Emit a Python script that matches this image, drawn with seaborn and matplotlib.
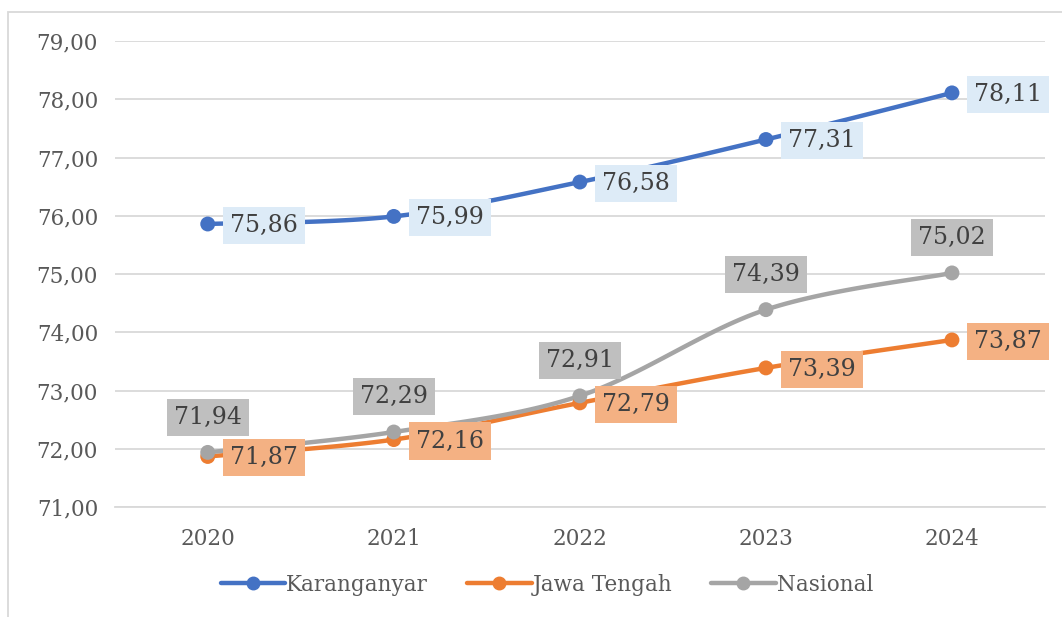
import numpy as np
import pandas as pd
import matplotlib
matplotlib.use("Agg")
import matplotlib.pyplot as plt
import seaborn as sns
from matplotlib.patches import Rectangle

# data...
years = ["2020", "2021", "2022", "2023", "2024"]
karanganyar = [75.86, 75.99, 76.58, 77.31, 78.11]
jawa_tengah = [71.87, 72.16, 72.79, 73.39, 73.87]
nasional = [71.94, 72.29, 72.91, 74.39, 75.02]

series_names = ["Karanganyar", "Jawa Tengah", "Nasional"]
colors = {"Karanganyar": "#4472C4", "Jawa Tengah": "#ED7D31", "Nasional": "#A5A5A5"}
box_colors = {"Karanganyar": "#DDEBF7", "Jawa Tengah": "#F4B183", "Nasional": "#BFBFBF"}

df = pd.DataFrame({"Tahun": years * 3,
                   "Nilai": karanganyar + jawa_tengah + nasional,
                   "Wilayah": [n for n in series_names for _ in years]})
df["x"] = df.groupby("Wilayah").cumcount()

sns.set_style("white")
plt.rcParams["font.family"] = ["DejaVu Serif"]


def smooth(xs, ys, n=30):
    # catmull-rom style smoothing like excel's smoothed line
    xs = np.asarray(xs, float)
    ys = np.asarray(ys, float)
    px = np.concatenate([[xs[0]], xs, [xs[-1]]])
    py = np.concatenate([[ys[0]], ys, [ys[-1]]])
    outx, outy = [], []
    for i in range(1, len(px) - 2):
        p0, p1, p2, p3 = (np.array([px[j], py[j]]) for j in range(i - 1, i + 3))
        c1 = p1 + (p2 - p0) / 6
        c2 = p2 - (p3 - p1) / 6
        t = np.linspace(0, 1, n)[:, None]
        b = (1 - t) ** 3 * p1 + 3 * (1 - t) ** 2 * t * c1 + 3 * (1 - t) * t ** 2 * c2 + t ** 3 * p2
        outx.extend(b[:, 0])
        outy.extend(b[:, 1])
    return outx, outy


fig = plt.figure(figsize=(10.62, 6.17), dpi=100)
ax = fig.add_axes([0.108, 0.178, 0.876, 0.7555])

for name in series_names:
    sub = df[df["Wilayah"] == name]
    sx, sy = smooth(sub["x"], sub["Nilai"])
    ax.plot(sx, sy, color=colors[name], lw=3.2, solid_capstyle="round", zorder=3)
sns.scatterplot(data=df, x="x", y="Nilai", hue="Wilayah", palette=colors, s=115,
                edgecolor="none", legend=False, ax=ax, zorder=4)

# data labels..
for _, r in df.iterrows():
    txt = f"{r['Nilai']:.2f}".replace(".", ",")
    bbox = dict(boxstyle="square,pad=0.3", fc=box_colors[r["Wilayah"]], ec="none")
    if r["Wilayah"] == "Nasional":
        ax.annotate(txt, (r["x"], r["Nilai"]), xytext=(0, 17), textcoords="offset points",
                    ha="center", va="bottom", fontsize=17, color="#404040", bbox=bbox, zorder=5)
    else:
        ax.annotate(txt, (r["x"], r["Nilai"]), xytext=(16, -1), textcoords="offset points",
                    ha="left", va="center", fontsize=17, color="#404040", bbox=bbox, zorder=5)

ax.set_xlim(-0.5, 4.5)
ax.set_ylim(71, 79)
ax.set_xticks(range(len(years)))
ax.set_xticklabels(years)
ax.set_yticks(np.arange(71, 79.5, 1))
ax.set_yticklabels([f"{v:.2f}".replace(".", ",") for v in np.arange(71, 79.5, 1)])
ax.tick_params(axis="both", labelsize=15.5, colors="#595959", length=0)
ax.tick_params(axis="y", pad=12)
ax.tick_params(axis="x", pad=15)
ax.grid(axis="y", color="#D9D9D9", lw=1.3)
ax.set_xlabel("")
ax.set_ylabel("")
for s in ["left", "right", "top"]:
    ax.spines[s].set_visible(False)
ax.spines["bottom"].set_color("#D9D9D9")
ax.spines["bottom"].set_linewidth(1.3)

# legend..
handles = [plt.Line2D([], [], color=colors[n], lw=3.2, marker="o", markersize=9) for n in series_names]
fig.legend(handles, series_names, loc="center", bbox_to_anchor=(0.515, 0.052), ncol=3,
           frameon=False, fontsize=15.5, labelcolor="#595959", handlelength=3.0,
           handletextpad=0.05, columnspacing=1.8)

# chart border
fig.patches.append(Rectangle((8 / 1062, -0.1), 1.2, 1 - 12 / 617 + 0.1, transform=fig.transFigure,
                             fill=False, ec="#D9D9D9", lw=1.3))

fig.savefig("out.png", dpi=100)
